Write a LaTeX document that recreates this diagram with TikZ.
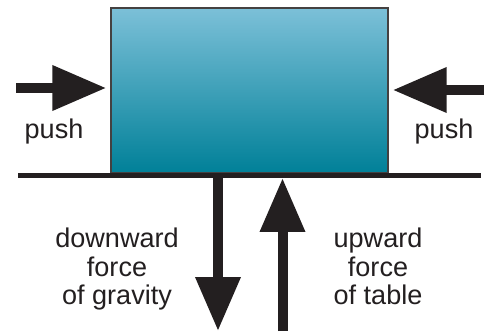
\documentclass[tikz,border=0pt]{standalone}
\usepackage{fontspec}
\setmainfont{Liberation Sans}
\usetikzlibrary{arrows.meta,positioning}
\definecolor{ink}{RGB}{35,31,32}
\definecolor{blocktop}{RGB}{124,192,216}
\definecolor{blockbot}{RGB}{0,128,152}
\begin{document}
\begin{tikzpicture}[x=0.02cm,y=-0.02cm,
  force/.style={draw=ink,line width=0.2cm,-{Triangle[length=1.08cm,width=0.86cm]}},
  lbl/.style={font=\fontsize{15.4}{16.2}\selectfont,text=ink,inner sep=0pt,align=center}]
\useasboundingbox (0,0) rectangle (489,331);
\node[draw=ink!85,line width=0.8pt,top color=blocktop,bottom color=blockbot,minimum width=5.54cm,minimum height=3.3cm,inner sep=0pt] (block) at (249.5,90.5) {};
\coordinate (tableL) at (18,175.5);
\coordinate (tableR) at (481,175.5);
\draw[ink,line width=0.1cm] (tableL) -- (tableR);
% pushes from the sides
\coordinate (pushL) at (16,88);
\coordinate (pushR) at (484,90);
\draw[force] (pushL) -- ([xshift=-0.08cm]pushL -| block.west);
\draw[force] (pushR) -- ([xshift=0.08cm]pushR -| block.east);
\node[lbl,anchor=base] (pushLtxt) at (54,138) {push};
\node[lbl,anchor=base] (pushRtxt) at (444,138) {push};
% vertical forces
\coordinate (gravTop) at (218,178);
\coordinate (gravEnd) at (218,331);
\coordinate (tableBot) at (282.5,331);
\coordinate (tableTop) at (282.5,178);
\draw[force] (gravTop) -- (gravEnd);
\draw[force] (tableBot) -- (tableTop);
\node[lbl,anchor=north] (gravtxt) at (117,228) {downward\\force\\of gravity};
\node[lbl,anchor=north] (tabletxt) at (378,228) {upward\\force\\of table};
\end{tikzpicture}
\end{document}
